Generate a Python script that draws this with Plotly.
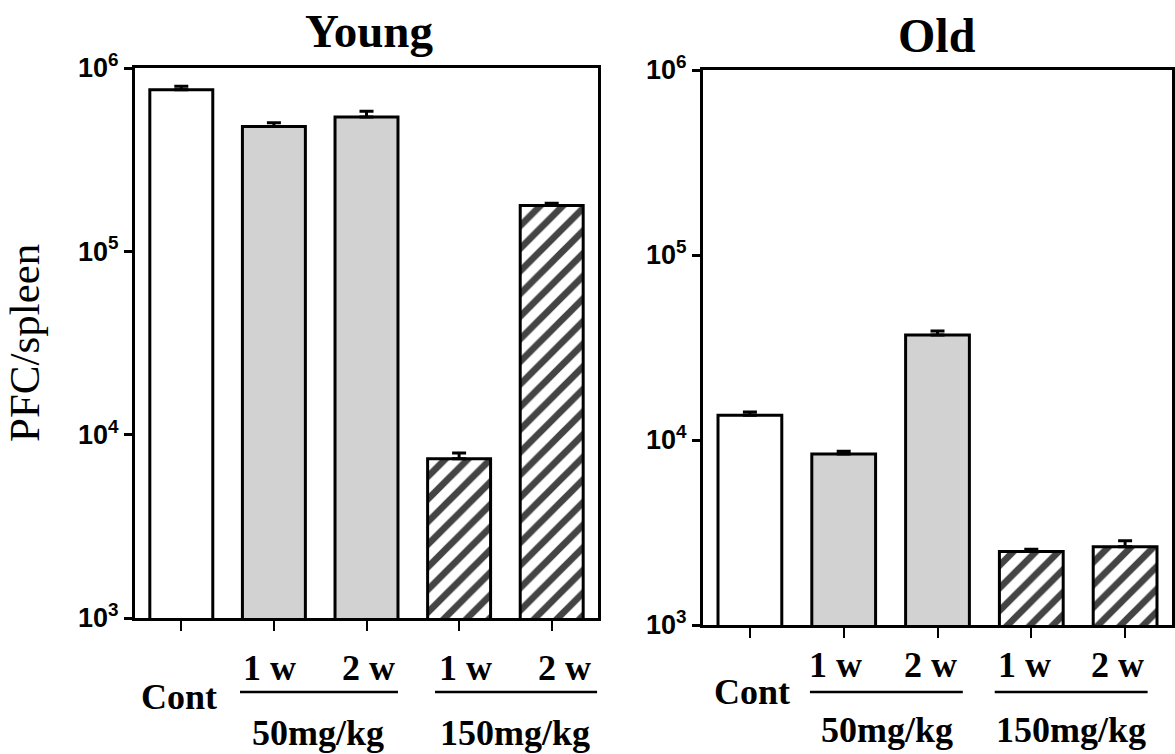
import plotly.graph_objects as go

categories = ["Cont", "50mg/kg 1 w", "50mg/kg 2 w", "150mg/kg 1 w", "150mg/kg 2 w"]
young_values = [760000, 480000, 540000, 7400, 178000]
young_errors = [35000, 22000, 40000, 550, 5000]
old_values = [13600, 8400, 37000, 2500, 2650]
old_errors = [550, 300, 1800, 70, 200]
ytick_vals = [1000, 10000, 100000, 1000000]
ytick_text = ["10<sup>3</sup>", "10<sup>4</sup>", "10<sup>5</sup>", "10<sup>6</sup>"]

fills = ["white", "#d2d2d2", "#d2d2d2", "white", "white"]
shapes_pat = ["", "", "", "/", "/"]

W, H = 1175, 754
SERIF = "Liberation Serif"
SANS = "Liberation Sans"

def bar_trace(vals, errs, xa, ya):
    return go.Bar(
        x=list(range(len(categories))), y=vals,
        xaxis=xa, yaxis=ya, width=0.68,
        marker=dict(color=fills, line=dict(color="black", width=3),
                    pattern=dict(shape=shapes_pat, fgcolor="black", bgcolor="white", fgopacity=1,
                                 size=16, solidity=0.42, fillmode="overlay")),
        error_y=dict(type="data", array=errs, arrayminus=[0]*len(errs), symmetric=False,
                     color="black", thickness=3, width=7),
        showlegend=False, hovertext=categories,
    )

fig = go.Figure()
fig.add_trace(bar_trace(young_values, young_errors, "x", "y"))
fig.add_trace(bar_trace(old_values, old_errors, "x2", "y2"))

def px_x(p):
    return p / W

def px_y(p):
    return 1 - p / H

xcommon = dict(range=[-0.5, 4.5], tickmode="array", tickvals=list(range(5)), showticklabels=False,
               ticks="outside", ticklen=10, tickwidth=2, tickcolor="black", automargin=False,
               showline=True, linecolor="black", linewidth=3, mirror=True, showgrid=False, zeroline=False)
ycommon = dict(type="log", range=[3, 6], tickmode="array", tickvals=ytick_vals, ticktext=ytick_text,
               ticks="outside", ticklen=8, tickwidth=3, tickcolor="black", automargin=False,
               tickfont=dict(family=SANS, size=27, color="black", weight="bold"),
               showline=True, linecolor="black", linewidth=3, mirror=True, showgrid=False, zeroline=False)

fig.update_layout(
    template="none",
    width=W, height=H, margin=dict(l=0, r=0, t=0, b=0, autoexpand=False),
    plot_bgcolor="white", paper_bgcolor="white", bargap=0.3,
    xaxis=dict(domain=[px_x(135), px_x(598)], anchor="y", **xcommon),
    yaxis=dict(domain=[px_y(618), px_y(68)], anchor="x", **ycommon),
    xaxis2=dict(domain=[px_x(703), px_x(1172)], anchor="y2", **xcommon),
    yaxis2=dict(domain=[px_y(625), px_y(70)], anchor="x2", **ycommon),
)

ann = []
def txt(x, xref, ypx, text, size, bold=True, family=SERIF):
    ann.append(dict(x=x, xref=xref, y=px_y(ypx), yref="paper", text=text, showarrow=False,
                    xanchor="center", yanchor="middle",
                    font=dict(family=family, size=size, color="black", weight="bold" if bold else "normal")))

# titles
ann.append(dict(x=px_x(369), xref="paper", y=px_y(31), yref="paper", text="Young", showarrow=False,
                xanchor="center", yanchor="middle",
                font=dict(family=SERIF, size=47, color="black", weight="bold")))
ann.append(dict(x=px_x(937), xref="paper", y=px_y(35), yref="paper", text="Old", showarrow=False,
                xanchor="center", yanchor="middle",
                font=dict(family=SERIF, size=48, color="black", weight="bold")))
# y title
ann.append(dict(x=px_x(25), xref="paper", y=px_y(343), yref="paper", text="PFC/spleen", textangle=-90,
                xanchor="center", yanchor="middle",
                showarrow=False, font=dict(family=SERIF, size=43, color="black")))

FS = 36
# x labels left panel
txt(-0.03, "x", 697, "Cont", FS)
txt(0.95, "x", 668, "1 w", FS)
txt(2.02, "x", 668, "2 w", FS)
txt(1.48, "x", 733, "50mg/kg", FS)
txt(3.07, "x", 668, "1 w", FS)
txt(4.14, "x", 668, "2 w", FS)
txt(3.60, "x", 733, "150mg/kg", FS)
# right panel
txt(0.02, "x2", 692, "Cont", FS)
txt(0.91, "x2", 665, "1 w", FS)
txt(1.93, "x2", 665, "2 w", FS)
txt(1.46, "x2", 730, "50mg/kg", FS)
txt(2.93, "x2", 665, "1 w", FS)
txt(3.92, "x2", 665, "2 w", FS)
txt(3.42, "x2", 730, "150mg/kg", FS)

shapes = []
for xref, (a0, a1), (b0, b1) in [("x", (0.634, 2.34), (2.74, 4.49)), ("x2", (0.64, 2.27), (2.61, 4.24))]:
    for s0, s1 in [(a0, a1), (b0, b1)]:
        shapes.append(dict(type="line", xref=xref, yref="paper", x0=s0, x1=s1, y0=px_y(692), y1=px_y(692),
                           line=dict(color="black", width=2.5)))

fig.update_layout(annotations=ann, shapes=shapes)
fig.write_html("out.html", config={"displayModeBar": False},
               post_script="document.body.style.margin='0px';document.body.style.overflow='hidden';")
